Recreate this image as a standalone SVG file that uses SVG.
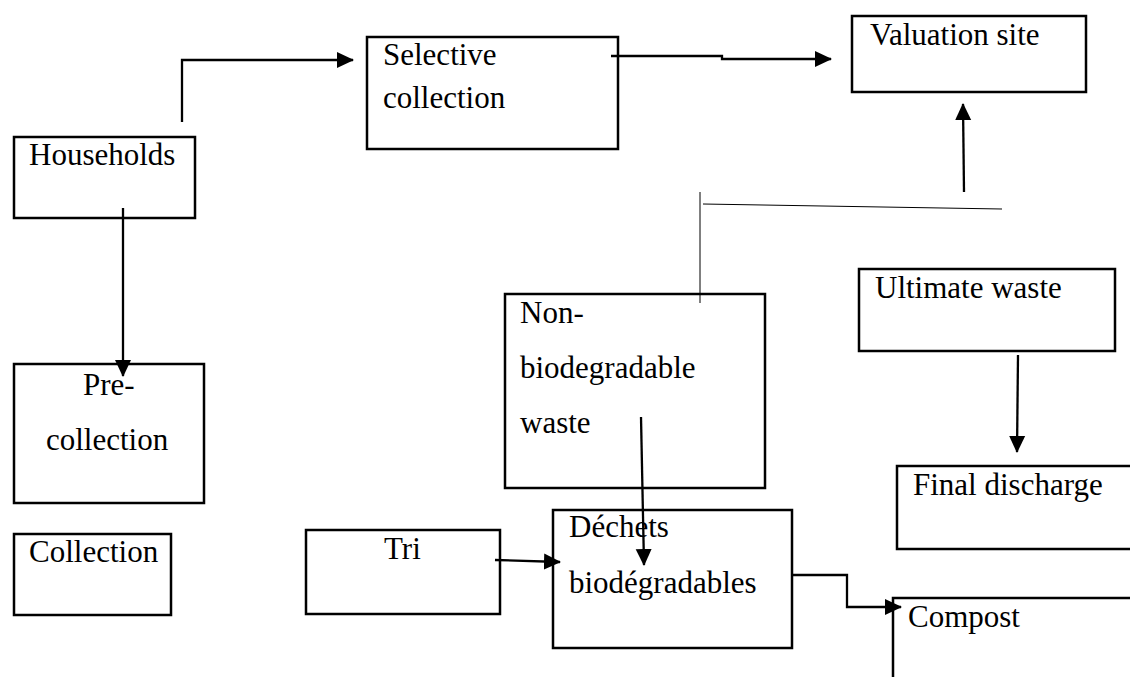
<svg xmlns="http://www.w3.org/2000/svg" width="1130" height="677" viewBox="0 0 1130 677">
<style>
.box{fill:none;stroke:#000;stroke-width:2.5}
.t{font-family:"Liberation Serif","Times New Roman",serif;font-size:31px;fill:#000}
.c{fill:none;stroke:#000;stroke-width:2.3}
.thin{fill:none;stroke:#000;stroke-width:1}
</style>
<defs>
<marker id="ah" markerWidth="18" markerHeight="18" refX="16" refY="9" orient="auto" markerUnits="userSpaceOnUse">
<path d="M0,1 L17,9 L0,17 Z" fill="#000"/>
</marker>
</defs>
<rect width="1130" height="677" fill="#fff"/>
<g id="households"><rect class="box" x="14" y="137" width="181" height="81"/><text class="t" x="29" y="165">Households</text></g>
<g id="selective"><rect class="box" x="367" y="37" width="251" height="112"/><text class="t" x="383" y="65">Selective</text><text class="t" x="383" y="108">collection</text></g>
<g id="valuation"><rect class="box" x="852" y="16" width="234" height="76"/><text class="t" x="870" y="45">Valuation site</text></g>
<g id="precollection"><rect class="box" x="14" y="364" width="190" height="139"/><text class="t" x="83" y="395">Pre-</text><text class="t" x="46" y="450">collection</text></g>
<g id="collection"><rect class="box" x="14" y="534" width="157" height="81"/><text class="t" x="29" y="562">Collection</text></g>
<g id="nonbio"><rect class="box" x="505" y="294" width="260" height="194"/><text class="t" x="520" y="323">Non-</text><text class="t" x="520" y="378">biodegradable</text><text class="t" x="520" y="433">waste</text></g>
<g id="ultimate"><rect class="box" x="859" y="269" width="256" height="82"/><text class="t" x="875" y="298">Ultimate waste</text></g>
<g id="final"><rect class="box" x="897" y="466" width="240" height="83"/><text class="t" x="913" y="495">Final discharge</text></g>
<g id="tri"><rect class="box" x="306" y="530" width="194" height="84"/><text class="t" x="384" y="559">Tri</text></g>
<g id="dechets"><rect class="box" x="553" y="510" width="239" height="138"/><text class="t" x="569" y="537">Déchets</text><text class="t" x="569" y="593">biodégradables</text></g>
<g id="compost"><path class="box" d="M893,690 L893,598 L1140,598"/><text class="t" x="908" y="627">Compost</text></g>
<g id="connectors">
<path class="c" d="M182,122 L182,60 L353,60" marker-end="url(#ah)"/>
<path class="c" d="M611,56 L722,56 L722,59 L831,59" marker-end="url(#ah)"/>
<path class="c" d="M964,192 L963,104" marker-end="url(#ah)"/>
<path class="thin" d="M700,192 L700,303"/>
<path class="thin" d="M703,204 L1002,209"/>
<path class="c" d="M123,208 L123,376" marker-end="url(#ah)"/>
<path class="c" d="M641,417 L644,565" marker-end="url(#ah)"/>
<path class="c" d="M495,560 L560,562" marker-end="url(#ah)"/>
<path class="c" d="M1018,355 L1017,452" marker-end="url(#ah)"/>
<path class="c" d="M792,575 L847,575 L847,607 L901,607" marker-end="url(#ah)"/>
</g>
</svg>
